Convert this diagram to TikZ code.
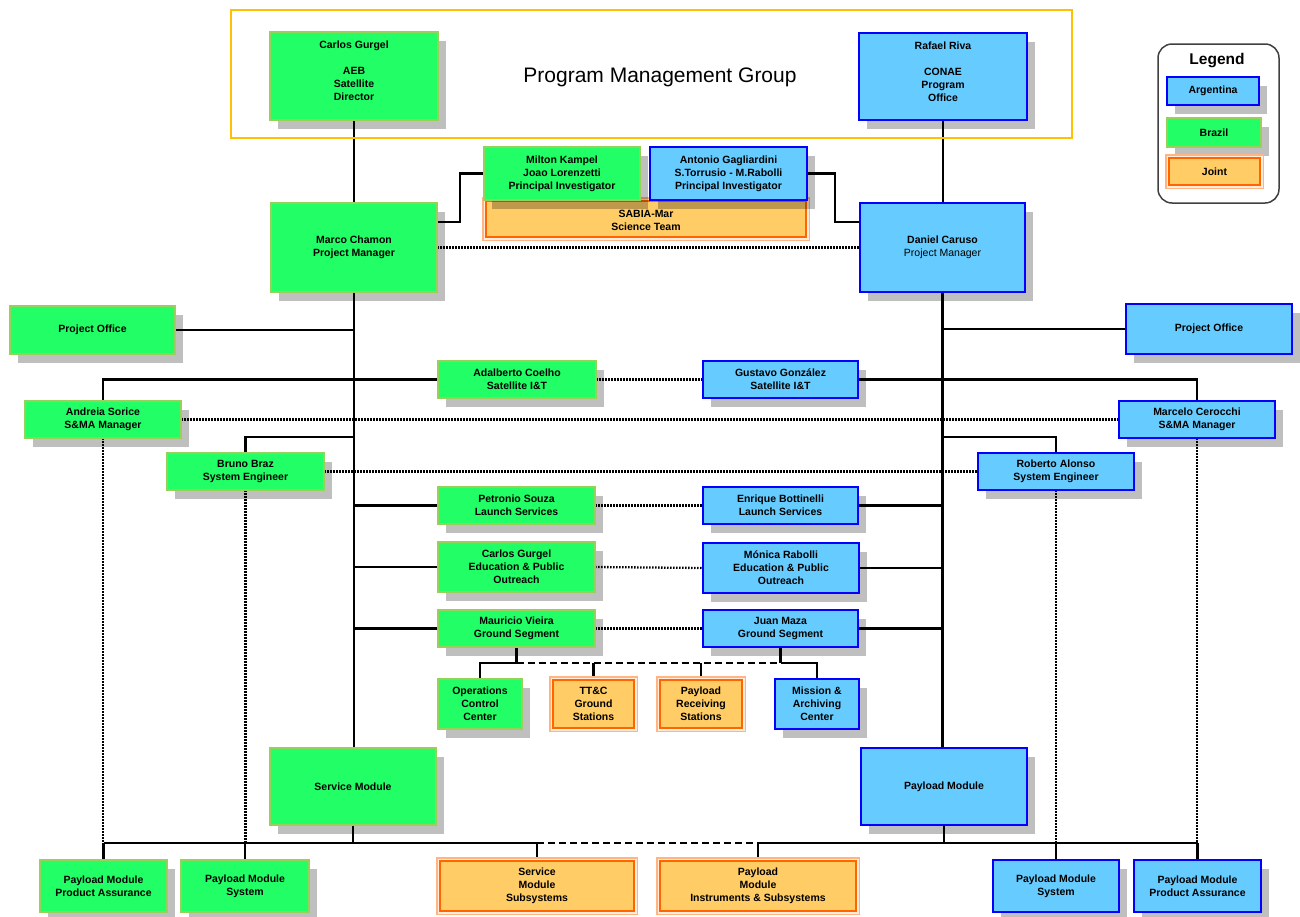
\documentclass[tikz,border=0pt]{standalone}
\usepackage{fontspec}
\setmainfont{Liberation Sans}
\usetikzlibrary{shadows,backgrounds}
\definecolor{brfill}{RGB}{34,255,102}
\definecolor{brline}{RGB}{150,210,90}
\definecolor{arfill}{RGB}{102,204,255}
\definecolor{arline}{RGB}{0,0,255}
\definecolor{jfill}{RGB}{255,204,102}
\definecolor{jline}{RGB}{255,102,0}
\definecolor{jlight}{RGB}{255,180,130}
\definecolor{jpale}{RGB}{255,236,220}
\definecolor{pmgline}{RGB}{255,192,0}
\definecolor{legline}{RGB}{64,64,64}
\tikzset{
 base/.style={inner sep=1pt, outer sep=0pt, align=center, font=\bfseries\fontsize{10.5}{13}\selectfont, text=black},
 shad/.style={drop shadow={shadow xshift=8pt,shadow yshift=-9pt,fill=black,opacity=.25}},
 brbox/.style={base, shad, fill=brfill, draw=brline, line width=1.5pt},
 arbox/.style={base, shad, fill=arfill, draw=arline, line width=2pt},
 jbox/.style={base, fill=jfill, draw=jline, line width=2.8pt,
   preaction={draw=jlight, line width=7.5pt}, preaction={draw=jpale, line width=5pt}},
 pmgframe/.style={draw=pmgline, line width=2pt, inner sep=0pt, outer sep=0pt},
 legframe/.style={draw=legline, line width=1.5pt, rounded corners=14pt, inner sep=0pt, outer sep=0pt},
 conn/.style={line width=2.7pt, black},
 dots/.style={line width=2.3pt, black, dash pattern=on 1.5pt off 1.5pt},
 dashbus/.style={line width=2.8pt, black, dash pattern=on 7pt off 4pt},
}
\newcommand\bx[7]{\node[#2, minimum width={(#5-#3)*1pt}, minimum height={(#6-#4)*1pt}] (#1) at ({(#3+#5)/2},{(#4+#6)/2}) {#7};}
\begin{document}
\begin{tikzpicture}[x=1pt,y=-1pt]
\useasboundingbox (0,0) rectangle (1300,916);
% frame
\bx{pmg}{pmgframe}{231}{10}{1072}{138}{}
\node[font=\fontsize{21}{25}\selectfont] (pmgt) at (660,77) {Program Management Group};
% legend
\bx{leg}{legframe}{1158}{44}{1279}{203}{}
\node[font=\bfseries\fontsize{15.5}{18}\selectfont] (legt) at (1217,61) {Legend};
\bx{legA}{arbox}{1167}{77}{1259}{105}{Argentina}
\bx{legB}{brbox}{1167}{118}{1261}{147}{Brazil}
\bx{legJ}{jbox}{1169}{158}{1260}{185}{Joint}
% top
\bx{cg}{brbox}{270}{32}{438}{120}{Carlos Gurgel\\[13pt]AEB\\Satellite\\Director\\[-3pt]\mbox{}}
\bx{rr}{arbox}{859}{33}{1027}{120}{Rafael Riva\\[13pt]CONAE\\Program\\Office\\[-3pt]\mbox{}}
\bx{sab}{jbox}{486}{201}{806}{237}{\\[-2pt]SABIA-Mar\\Science Team}
\bx{mk}{brbox}{484}{147}{640}{200}{Milton Kampel\\Joao Lorenzetti\\Principal Investigator}
\bx{ag}{arbox}{650}{147}{807}{200}{Antonio Gagliardini\\S.Torrusio - M.Rabolli\\Principal Investigator}
\bx{mc}{brbox}{271}{203}{437}{292}{Marco Chamon\\Project Manager}
\bx{dc}{arbox}{860}{203}{1025}{292}{Daniel Caruso\\{\mdseries Project Manager}}
% branches
\bx{poL}{brbox}{10}{306}{175}{354}{Project Office}
\bx{poR}{arbox}{1126}{304}{1292}{354}{Project Office}
\bx{ac}{brbox}{438}{361}{596}{398}{Adalberto Coelho\\Satellite I\&T}
\bx{gg}{arbox}{703}{361}{858}{398}{Gustavo González\\Satellite I\&T}
\bx{as}{brbox}{25}{401}{181}{438}{Andreia Sorice\\S\&MA Manager}
\bx{mce}{arbox}{1119}{401}{1275}{438}{Marcelo Cerocchi\\S\&MA Manager}
\bx{bb}{brbox}{167}{453}{324}{490}{Bruno Braz\\System Engineer}
\bx{ra}{arbox}{978}{453}{1134}{490}{Roberto Alonso\\System Engineer}
\bx{ps}{brbox}{438}{487}{595}{524}{Petronio Souza\\Launch Services}
\bx{eb}{arbox}{703}{487}{858}{524}{Enrique Bottinelli\\Launch Services}
\bx{cge}{brbox}{438}{542}{595}{592}{Carlos Gurgel\\Education \& Public\\Outreach}
\bx{mr}{arbox}{703}{543}{859}{593}{Mónica Rabolli\\Education \& Public\\Outreach}
\bx{mv}{brbox}{438}{610}{595}{647}{Mauricio Vieira\\Ground Segment}
\bx{jm}{arbox}{703}{610}{858}{647}{Juan Maza\\Ground Segment}
% ground
\bx{occ}{brbox}{438}{679}{522}{729}{Operations\\Control\\Center}
\bx{ttc}{jbox}{553}{680}{634}{728}{TT\&C\\Ground\\Stations}
\bx{prs}{jbox}{660}{680}{742}{728}{Payload\\Receiving\\Stations}
\bx{mac}{arbox}{775}{679}{859}{729}{Mission \&\\Archiving\\Center}
% modules
\bx{sm}{brbox}{270}{748}{436}{825}{Service Module}
\bx{pm}{arbox}{861}{748}{1027}{825}{Payload Module}
% bottom
\bx{b1}{brbox}{40}{860}{167}{912}{Payload Module\\Product Assurance}
\bx{b2}{brbox}{181}{860}{309}{912}{Payload Module\\System}
\bx{b3}{jbox}{440}{861}{634}{911}{Service\\Module\\Subsystems}
\bx{b4}{jbox}{660}{861}{856}{911}{Payload\\Module\\Instruments \& Subsystems}
\bx{b5}{arbox}{993}{860}{1119}{912}{Payload Module\\System}
\bx{b6}{arbox}{1134}{860}{1261}{912}{Payload Module\\Product Assurance}
% coordinates
\coordinate (brY) at (0,437);
\coordinate (gbus) at (0,663);
\coordinate (bbus) at (0,843);
\begin{scope}[on background layer]
% trunks
\draw[conn] (cg.south) -- (cg.south |- mc.north);
\draw[conn] (rr.south) -- (rr.south |- dc.north);
\draw[conn] (mc.south) -- (mc.south |- sm.north);
\draw[conn] (dc.south) -- (dc.south |- pm.north);
% science team
\draw[conn] ([yshift=25.5pt]mc.east) -- ++(23,0) |- (mk.west);
\draw[conn] (ag.east) -- ++(28,0) |- ([yshift=25.5pt]dc.west);
\draw[dots] (mc.east) -- (dc.west);
% project offices
\draw[conn] (mc.south |- poL.east) -- (poL.east);
\draw[conn] (dc.south |- poR.west) -- (poR.west);
% I&T and S&MA
\draw[conn] (as.north) |- (ac.west);
\draw[conn] (gg.east) -| (mce.north);
\draw[dots] (ac.east) -- (gg.west);
\draw[dots] (as.east) -- (mce.west);
% system engineers
\draw[conn] (mc.south |- brY) -| (bb.north);
\draw[conn] (dc.south |- brY) -| (ra.north);
\draw[dots] (bb.east) -- (ra.west);
% others
\draw[conn] (mc.south |- ps.west) -- (ps.west);
\draw[conn] (mc.south |- cge.west) -- (cge.west);
\draw[conn] (mc.south |- mv.west) -- (mv.west);
\draw[conn] (eb.east) -- (dc.south |- eb.east);
\draw[conn] (mr.east) -- (dc.south |- mr.east);
\draw[conn] (jm.east) -- (dc.south |- jm.east);
\draw[dots] (ps.east) -- (eb.west);
\draw[dots] (cge.east) -- (mr.west);
\draw[dots] (mv.east) -- (jm.west);
% ground segment
\draw[conn] (mv.south) -- (mv.south |- gbus);
\draw[conn] (jm.south) -- (jm.south |- gbus);
\draw[conn] (mv.south |- gbus) -| (occ.north);
\draw[conn] (jm.south |- gbus) -| (mac.north);
\draw[dashbus] (mv.south |- gbus) -- (jm.south |- gbus);
\draw[conn] (ttc.north) -- (ttc.north |- gbus);
\draw[conn] (prs.north) -- (prs.north |- gbus);
% bottom bus
\draw[conn] (sm.south) -- (sm.south |- bbus);
\draw[conn] (pm.south) -- (pm.south |- bbus);
\draw[conn] (b1.north |- bbus) -- (b3.north |- bbus);
\draw[dashbus] (b3.north |- bbus) -- (b4.north |- bbus);
\draw[conn] (b4.north |- bbus) -- (b6.north |- bbus);
\draw[conn] (b1.north |- bbus) -- (b1.north);
\draw[conn] (b2.north |- bbus) -- (b2.north);
\draw[conn] (b3.north |- bbus) -- (b3.north);
\draw[conn] (b4.north |- bbus) -- (b4.north);
\draw[conn] (b5.north |- bbus) -- (b5.north);
\draw[conn] (b6.north |- bbus) -- (b6.north);
\draw[dots] (as.south) -- (as.south |- bbus);
\draw[dots] (bb.south) -- (bb.south |- bbus);
\draw[dots] (ra.south) -- (ra.south |- bbus);
\draw[dots] (mce.south) -- (mce.south |- bbus);
\end{scope}
\end{tikzpicture}
\end{document}
